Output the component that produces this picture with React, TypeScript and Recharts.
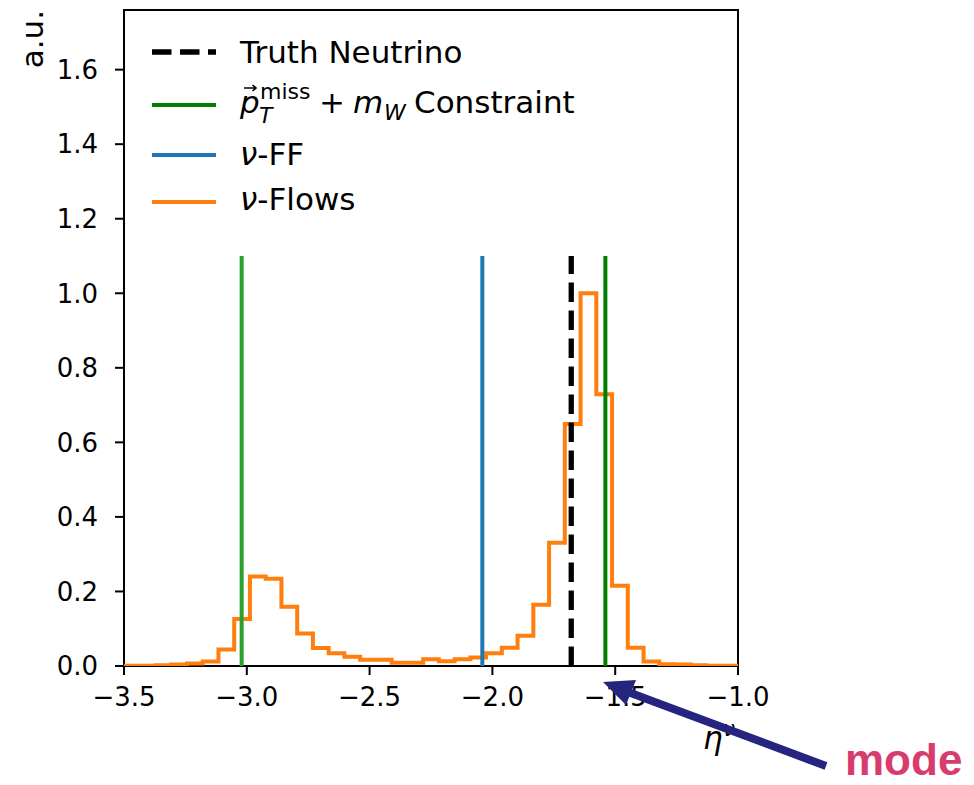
import React from 'react';
import { ComposedChart, Line, XAxis, YAxis, ReferenceArea, Legend } from 'recharts';

// eta range and binning of the nu-Flows histogram
const ETA_MIN = -3.5;
const ETA_MAX = -1.0;
const N_BINS = 39;

// nu-Flows eta^nu distribution, normalised so the mode bin is 1
const FLOWS_HEIGHTS = [
  0.001, 0.001, 0.002, 0.004, 0.007, 0.012, 0.044, 0.126, 0.240, 0.234,
  0.159, 0.087, 0.048, 0.034, 0.025, 0.017, 0.017, 0.009, 0.009, 0.018,
  0.013, 0.018, 0.023, 0.034, 0.049, 0.081, 0.164, 0.331, 0.649, 1.0,
  0.729, 0.215, 0.049, 0.012, 0.005, 0.004, 0.002, 0.001, 0.001,
];

// single-value reconstructions, drawn as vertical markers
const TRUTH_ETA = -1.679;
const CONSTRAINT_ETAS = [-3.021, -1.54];
const FF_ETA = -2.041;
const MARKER_TOP = 1.1;

const X_TICKS = [-3.5, -3.0, -2.5, -2.0, -1.5, -1.0];
const Y_TICKS = [0, 0.2, 0.4, 0.6, 0.8, 1.0, 1.2, 1.4, 1.6];
const Y_MAX = 1.76;

const C_FLOWS = '#ff7f0e';
const C_FF = '#1f77b4';
const C_CONSTRAINT = '#008000';
const C_CONSTRAINT_ALT = '#2ca02c';
const C_TRUTH = '#000000';

const FONT = 'DejaVu Sans';
const TICK_FS = 26;
const LABEL_FS = 31;

const binEdge = (i: number) => ETA_MIN + (i * (ETA_MAX - ETA_MIN)) / N_BINS;

const flowsData = [
  { eta: binEdge(0), y: 0 },
  ...FLOWS_HEIGHTS.map((h, i) => ({ eta: binEdge(i), y: h })),
  { eta: binEdge(N_BINS), y: 0 },
];

const vline = (eta: number) => [
  { eta, y: 0 },
  { eta, y: MARKER_TOP },
];

const fmtX = (v: number) => (v < 0 ? '\u2212' + Math.abs(v).toFixed(1) : v.toFixed(1));

const XLabel = (props: any) => {
  const vb = props.viewBox || { x: 124, y: 666, width: 614 };
  return (
    <text x={vb.x + vb.width - 3} y={vb.y + 83} textAnchor="end" fontFamily={FONT} fontSize={LABEL_FS} fill="#000">
      <tspan fontStyle="italic">η</tspan>
      <tspan fontStyle="italic" fontSize={22} dy={-13}>ν</tspan>
    </text>
  );
};

const YLabel = (props: any) => {
  const vb = props.viewBox || { x: 0, y: 10 };
  const x = 43;
  const y = vb.y;
  return (
    <text x={x} y={y} transform={`rotate(-90, ${x}, ${y})`} textAnchor="end" fontFamily={FONT} fontSize={LABEL_FS} fill="#000">
      a.u.
    </text>
  );
};

const LegendRows = () => (
  <svg width={974} height={230} style={{ position: 'absolute', left: 0, top: 0, overflow: 'visible' }}>
    <line x1={152} x2={216} y1={52} y2={52} stroke={C_TRUTH} strokeWidth={5.3} strokeDasharray="19.5 8.5" />
    <line x1={152} x2={216} y1={105} y2={105} stroke={C_CONSTRAINT} strokeWidth={4} />
    <line x1={152} x2={216} y1={155} y2={155} stroke={C_FF} strokeWidth={4} />
    <line x1={152} x2={216} y1={202} y2={202} stroke={C_FLOWS} strokeWidth={4} />
    <g fontFamily={FONT} fontSize={LABEL_FS} fill="#000">
      <text x={240} y={63}>Truth Neutrino</text>
      <text x={240} y={113} fontStyle="italic">p</text>
      <path d="M244 88 L256 88 M252.5 85 L256 88 L252.5 91" stroke="#000" strokeWidth={1.6} fill="none" />
      <text x={260} y={99} fontSize={22}>miss</text>
      <text x={259} y={123} fontSize={22} fontStyle="italic">T</text>
      <text x={319} y={113}>+</text>
      <text x={353} y={113} fontStyle="italic">m</text>
      <text x={384} y={120} fontSize={22} fontStyle="italic">W</text>
      <text x={414} y={113}>Constraint</text>
      <text x={240} y={165}>
        <tspan fontStyle="italic">ν</tspan>-FF
      </text>
      <text x={240} y={210}>
        <tspan fontStyle="italic">ν</tspan>-Flows
      </text>
    </g>
  </svg>
);

export default function App() {
  return (
    <div style={{ position: 'absolute', left: 0, top: 0, width: 974, height: 785, background: '#fff' }}>
      <ComposedChart width={974} height={785} margin={{ top: 10, right: 236, bottom: 79, left: 0 }}>
        <XAxis
          type="number"
          dataKey="eta"
          domain={[ETA_MIN, ETA_MAX]}
          ticks={X_TICKS}
          interval={0}
          allowDataOverflow
          axisLine={false}
          tickSize={9}
          tickMargin={13}
          height={40}
          tickFormatter={fmtX}
          tick={{ fill: '#000', fontSize: TICK_FS, fontFamily: FONT }}
          tickLine={{ stroke: '#000', strokeWidth: 2 }}
          label={{ content: XLabel }}
        />
        <YAxis
          type="number"
          domain={[0, Y_MAX]}
          ticks={Y_TICKS}
          interval={0}
          allowDataOverflow
          axisLine={false}
          width={124}
          tickSize={9}
          tickMargin={17}
          tickFormatter={(v: number) => v.toFixed(1)}
          tick={{ fill: '#000', fontSize: TICK_FS, fontFamily: FONT }}
          tickLine={{ stroke: '#000', strokeWidth: 2 }}
          label={{ content: YLabel }}
        />
        <Legend
          verticalAlign="top"
          align="left"
          content={() => <LegendRows />}
          wrapperStyle={{ left: 0, top: 0, width: 974, height: 0 }}
        />
        <Line data={flowsData} dataKey="y" type="stepAfter" stroke={C_FLOWS} strokeWidth={4} dot={false} activeDot={false} isAnimationActive={false} />
        <Line data={vline(CONSTRAINT_ETAS[0])} dataKey="y" stroke={C_CONSTRAINT_ALT} strokeWidth={4} dot={false} activeDot={false} isAnimationActive={false} />
        <Line data={vline(FF_ETA)} dataKey="y" stroke={C_FF} strokeWidth={4} dot={false} activeDot={false} isAnimationActive={false} />
        <Line data={vline(TRUTH_ETA)} dataKey="y" stroke={C_TRUTH} strokeWidth={5.3} strokeDasharray="19.5 8.5" dot={false} activeDot={false} isAnimationActive={false} />
        <Line data={vline(CONSTRAINT_ETAS[1])} dataKey="y" stroke={C_CONSTRAINT} strokeWidth={4} dot={false} activeDot={false} isAnimationActive={false} />
        <ReferenceArea x1={ETA_MIN} x2={ETA_MAX} y1={0} y2={Y_MAX} fill="none" fillOpacity={0} stroke="#000" strokeWidth={2} ifOverflow="visible" />
      </ComposedChart>
      <svg width={974} height={785} style={{ position: 'absolute', left: 0, top: 0, pointerEvents: 'none' }}>
        <line x1={826} y1={766} x2={628} y2={692} stroke="#25247f" strokeWidth={8} />
        <polygon points="603,682 636,680 626,705" fill="#25247f" />
        <text x={845} y={775} fontFamily="Liberation Sans" fontWeight="bold" fontSize={44} fill="#d83b6d">
          mode
        </text>
      </svg>
    </div>
  );
}
